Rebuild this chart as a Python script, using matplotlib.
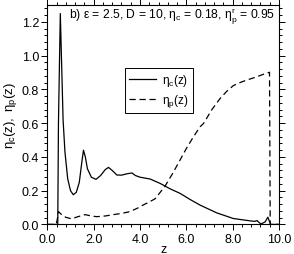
import matplotlib
matplotlib.use("Agg")
from matplotlib import pyplot as plt
from matplotlib.ticker import MultipleLocator, FormatStrFormatter

plt.rcParams['font.family'] = ['Liberation Sans', 'DejaVu Sans']
plt.rcParams['mathtext.fontset'] = 'custom'
plt.rcParams['mathtext.rm'] = 'Liberation Sans'
plt.rcParams['mathtext.it'] = 'Liberation Sans'

# eta_c(z) : solid line
z_c = [0.0, 0.45, 0.48, 0.56, 0.68, 0.76, 0.88, 1.0, 1.12, 1.25, 1.38, 1.48, 1.56,
       1.64, 1.73, 1.9, 2.1, 2.3, 2.5, 2.64, 2.8, 3.0, 3.2, 3.43, 3.65, 3.8, 4.0,
       4.44, 4.87, 5.3, 5.73, 6.16, 6.6, 7.32, 8.03, 8.76, 8.95, 9.05, 9.15, 9.23,
       9.4, 9.52, 9.58, 9.64, 10.0]
eta_c = [0.0, 0.0, 0.6, 1.25, 0.62, 0.43, 0.27, 0.2, 0.176, 0.19, 0.25, 0.36, 0.44,
         0.40, 0.33, 0.28, 0.267, 0.29, 0.325, 0.338, 0.32, 0.293, 0.292, 0.30, 0.305,
         0.29, 0.28, 0.269, 0.243, 0.211, 0.184, 0.148, 0.114, 0.068, 0.035, 0.021,
         0.018, 0.023, 0.01, 0.003, 0.015, 0.043, 0.02, 0.0, 0.0]

# eta_p(z) : dashed line
z_p = [0.0, 0.38, 0.43, 0.48, 0.6, 0.8, 1.05, 1.3, 1.63, 1.9, 2.13, 2.5, 2.85, 3.2,
       3.57, 3.9, 4.15, 4.4, 4.65, 4.87, 5.08, 5.4, 5.73, 6.0, 6.31, 6.6, 6.74, 7.1,
       7.46, 7.75, 8.03, 8.3, 8.61, 9.0, 9.33, 9.59, 9.62, 10.0]
eta_p = [0.0, 0.0, 0.03, 0.076, 0.06, 0.042, 0.033, 0.045, 0.058, 0.05, 0.046, 0.05,
         0.058, 0.065, 0.076, 0.097, 0.116, 0.133, 0.152, 0.19, 0.227, 0.3, 0.382,
         0.45, 0.52, 0.58, 0.598, 0.68, 0.747, 0.79, 0.823, 0.84, 0.856, 0.873, 0.89,
         0.902, 0.0, 0.0]

fig = plt.figure(figsize=(2.94, 2.55), dpi=100)
ax = fig.add_axes([0.161, 0.116, 0.788, 0.86])

ax.plot(z_c, eta_c, color='black', lw=0.9, label=r'$\mathregular{\eta_c(z)}$')
ax.plot(z_p, eta_p, color='black', lw=0.9, linestyle=(0, (5, 3)),
        label=r'$\mathregular{\eta_p(z)}$')

ax.set_xlim(0, 10)
ax.set_ylim(0, 1.3)
ax.xaxis.set_major_locator(MultipleLocator(2))
ax.xaxis.set_minor_locator(MultipleLocator(0.4))
ax.yaxis.set_major_locator(MultipleLocator(0.2))
ax.yaxis.set_minor_locator(MultipleLocator(0.04))
ax.xaxis.set_major_formatter(FormatStrFormatter('%.1f'))
ax.yaxis.set_major_formatter(FormatStrFormatter('%.1f'))
ax.tick_params(which='both', direction='out', top=True, right=True,
               labelsize=9, width=0.7, pad=2)
ax.tick_params(which='major', length=4)
ax.tick_params(which='minor', length=2)
for s in ax.spines.values():
    s.set_linewidth(0.8)

ax.set_xlabel('z', fontsize=9, labelpad=-1)
ax.set_ylabel(r'$\mathregular{\eta_c(z),\ \eta_p(z)}$', fontsize=9.5, labelpad=2)

ax.text(0.985, 0.955,
        r'b) $\mathregular{\varepsilon}$ = 2.5, D = 10, $\mathregular{\eta_c}$ = 0.18, $\mathregular{\eta_p^r}$ = 0.95',
        transform=ax.transAxes, ha='right', va='center', fontsize=8.7)

leg = ax.legend(loc='upper left', bbox_to_anchor=(0.335, 0.713), fontsize=8.5,
                fancybox=False, edgecolor='black', framealpha=1, borderaxespad=0,
                handlelength=2.3, borderpad=0.35, labelspacing=0.3,
                handletextpad=0.5)
leg.get_frame().set_linewidth(0.7)

fig.savefig('out.png', dpi=100)
